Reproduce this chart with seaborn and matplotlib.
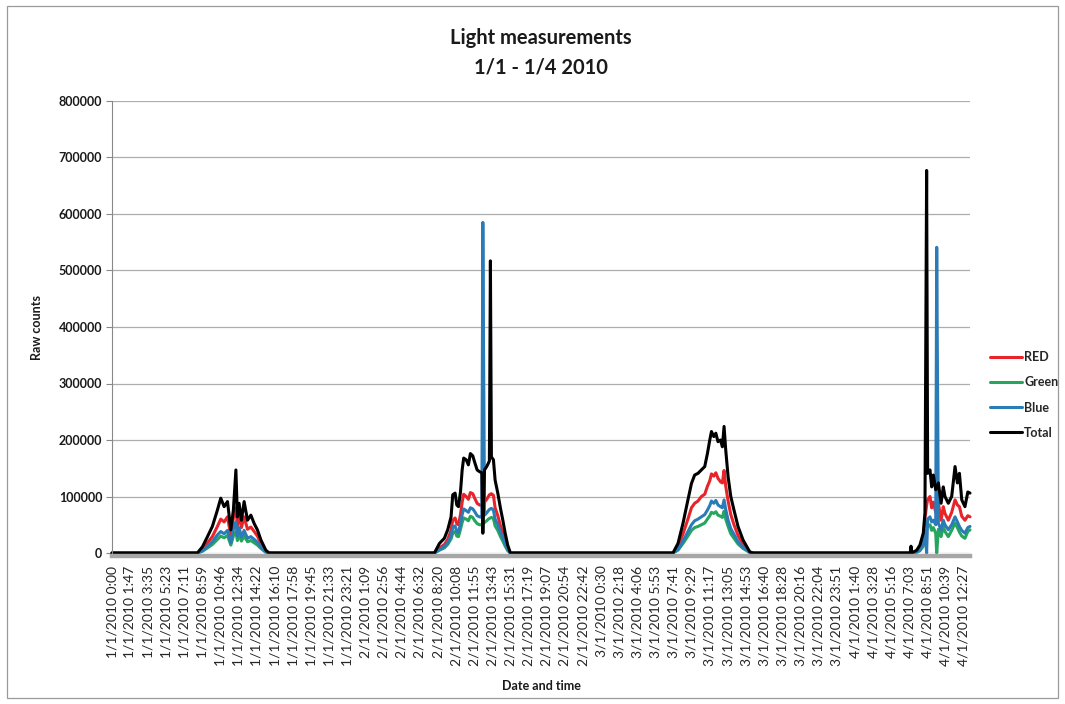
import matplotlib
matplotlib.use("Agg")
import matplotlib.pyplot as plt
import matplotlib.ticker as mticker
from matplotlib.patches import Rectangle
import seaborn as sns
import pandas as pd

# ---- data: light sensor readings (raw counts), one block per day ----
day1_date = "1/1/2010"
day1_time = ["0:00", "8:28", "8:58", "9:28", "9:57", "10:27", "10:47", "11:07", "11:27",
             "11:47", "12:02", "12:17", "12:26", "12:36", "12:50", "13:06", "13:26",
             "13:46", "14:06", "14:25", "14:46", "15:15", "15:35"]
day1_total = [0, 0, 11000, 29000, 47000, 76000, 97000, 82000, 91000, 41000, 76000, 147000,
              64000, 88000, 58000, 91000, 58000, 67000, 52000, 41000, 23000, 5000, 0]
day1_red = [0, 0, 6000, 18000, 29000, 47000, 60000, 55000, 64000, 30000, 62000, 80000,
            48000, 70000, 45000, 64000, 42000, 46000, 38000, 30000, 16000, 3000, 0]
day1_green = [0, 0, 3000, 9000, 15000, 24000, 30000, 27000, 31000, 14000, 30000, 38000,
              22000, 33000, 21000, 30000, 20000, 22000, 18000, 14000, 8000, 1000, 0]
day1_blue = [0, 0, 4000, 12000, 20000, 32000, 38000, 34000, 40000, 18000, 42000, 55000,
             30000, 45000, 28000, 40000, 26000, 29000, 24000, 19000, 10000, 2000, 0]

day2_date = "2/1/2010"
day2_time = ["7:58", "8:28", "8:57", "9:17", "9:37", "9:47", "10:01", "10:11", "10:21",
             "10:33", "10:43", "10:52", "11:07", "11:20", "11:32", "11:46", "11:56",
             "12:12", "12:26", "12:40", "12:46", "12:56", "13:09", "13:19", "13:25",
             "13:31", "13:37", "13:49", "13:59", "14:15", "14:31", "14:45", "14:59",
             "15:14", "15:30"]
day2_total = [0, 17000, 26000, 41000, 64000, 103000, 106000, 85000, 82000, 108000, 147000,
              168000, 165000, 156000, 176000, 172000, 162000, 147000, 144000, 142000,
              35000, 147000, 153000, 159000, 163000, 517000, 170000, 165000, 129000,
              106000, 79000, 58000, 35000, 14000, 0]
day2_red = [0, 9000, 15000, 24000, 40000, 58000, 62000, 52000, 50000, 68000, 90000, 104000,
            100000, 95000, 107000, 105000, 98000, 88000, 85000, 84000, 86000, 90000,
            95000, 100000, 103000, 104000, 105000, 102000, 80000, 66000, 48000, 35000,
            21000, 8000, 0]
day2_green = [0, 5000, 9000, 15000, 25000, 35000, 38000, 30000, 29000, 42000, 54000, 62000,
              60000, 57000, 65000, 63000, 58000, 52000, 50000, 50000, 51000, 54000, 57000,
              60000, 61000, 62000, 63000, 61000, 48000, 40000, 29000, 21000, 12000, 4000, 0]
day2_blue = [0, 6000, 11000, 18000, 30000, 45000, 48000, 38000, 36000, 52000, 68000, 78000,
             75000, 72000, 80000, 78000, 74000, 66000, 64000, 63000, 585000, 67000, 71000,
             75000, 77000, 78000, 79000, 76000, 60000, 50000, 37000, 27000, 16000, 6000, 0]

day3_date = "3/1/2010"
day3_time = ["7:37", "8:07", "8:37", "9:06", "9:27", "9:46", "10:06", "10:26", "10:46",
             "11:02", "11:16", "11:26", "11:40", "11:52", "12:05", "12:20", "12:31",
             "12:41", "12:51", "13:05", "13:21", "13:40", "14:04", "14:34", "15:14", "15:34"]
day3_total = [0, 17000, 53000, 94000, 123000, 138000, 141000, 147000, 153000, 176000,
              200000, 215000, 206000, 212000, 197000, 200000, 188000, 224000, 182000,
              135000, 100000, 76000, 47000, 23000, 2000, 0]
day3_red = [0, 10000, 34000, 60000, 80000, 88000, 92000, 100000, 104000, 118000, 128000,
            140000, 136000, 142000, 132000, 126000, 124000, 146000, 118000, 92000, 68000,
            50000, 31000, 15000, 1000, 0]
day3_green = [0, 5000, 17000, 30000, 40000, 45000, 47000, 50000, 53000, 60000, 66000,
              72000, 70000, 73000, 67000, 65000, 63000, 74000, 60000, 47000, 34000, 26000,
              16000, 8000, 1000, 0]
day3_blue = [0, 6000, 21000, 38000, 50000, 57000, 60000, 64000, 68000, 76000, 84000,
             92000, 88000, 93000, 85000, 82000, 80000, 94000, 77000, 58000, 43000, 33000,
             20000, 10000, 1000, 0]

day4_date = "4/1/2010"
day4_time = ["6:55", "7:08", "7:13", "7:18", "7:47", "8:06", "8:26", "8:36", "8:46",
             "8:52", "9:06", "9:16", "9:26", "9:40", "9:46", "9:56", "10:12", "10:25",
             "10:35", "10:55", "11:15", "11:35", "11:49", "12:01", "12:15", "12:34",
             "12:51", "13:04"]
day4_total = [0, 0, 12000, 0, 5000, 14000, 35000, 71000, 677000, 141000, 147000, 117000,
              138000, 112000, 115000, 124000, 88000, 117000, 100000, 88000, 100000,
              153000, 124000, 141000, 94000, 82000, 108000, 106000]
day4_red = [0, 0, 0, 0, 3000, 8000, 22000, 60000, 85000, 94000, 100000, 80000, 90000,
            72000, 74000, 88000, 58000, 82000, 70000, 58000, 72000, 94000, 85000, 82000,
            65000, 58000, 66000, 64000]
day4_green = [0, 0, 0, 0, 1000, 4000, 12000, 32000, 45000, 47000, 50000, 40000, 45000,
              35000, 0, 42000, 29000, 47000, 38000, 29000, 40000, 53000, 45000, 37000,
              30000, 26000, 38000, 41000]
day4_blue = [0, 0, 0, 0, 2000, 5000, 16000, 40000, 0, 60000, 64000, 55000, 58000, 50000,
             541000, 52000, 41000, 58000, 50000, 41000, 50000, 64000, 55000, 47000, 40000,
             35000, 45000, 47000]

x_tick_labels = [
    "1/1/2010 0:00", "1/1/2010 1:47", "1/1/2010 3:35", "1/1/2010 5:23", "1/1/2010 7:11",
    "1/1/2010 8:59", "1/1/2010 10:46", "1/1/2010 12:34", "1/1/2010 14:22", "1/1/2010 16:10",
    "1/1/2010 17:58", "1/1/2010 19:45", "1/1/2010 21:33", "1/1/2010 23:21", "2/1/2010 1:09",
    "2/1/2010 2:56", "2/1/2010 4:44", "2/1/2010 6:32", "2/1/2010 8:20", "2/1/2010 10:08",
    "2/1/2010 11:55", "2/1/2010 13:43", "2/1/2010 15:31", "2/1/2010 17:19", "2/1/2010 19:07",
    "2/1/2010 20:54", "2/1/2010 22:42", "3/1/2010 0:30", "3/1/2010 2:18", "3/1/2010 4:06",
    "3/1/2010 5:53", "3/1/2010 7:41", "3/1/2010 9:29", "3/1/2010 11:17", "3/1/2010 13:05",
    "3/1/2010 14:53", "3/1/2010 16:40", "3/1/2010 18:28", "3/1/2010 20:16", "3/1/2010 22:04",
    "3/1/2010 23:51", "4/1/2010 1:40", "4/1/2010 3:28", "4/1/2010 5:16", "4/1/2010 7:03",
    "4/1/2010 8:51", "4/1/2010 10:39", "4/1/2010 12:27",
]
y_ticks = [0, 100000, 200000, 300000, 400000, 500000, 600000, 700000, 800000]

series_names = ["RED", "Green", "Blue", "Total"]
series_colors = {"RED": "#E8242B", "Green": "#25A55E", "Blue": "#2B7BB7", "Total": "#000000"}

# ---- long-form table ----
days = [
    (day1_date, day1_time, day1_red, day1_green, day1_blue, day1_total),
    (day2_date, day2_time, day2_red, day2_green, day2_blue, day2_total),
    (day3_date, day3_time, day3_red, day3_green, day3_blue, day3_total),
    (day4_date, day4_time, day4_red, day4_green, day4_blue, day4_total),
]
rows = []
for date, times, red, green, blue, total in days:
    for i, t in enumerate(times):
        stamp = pd.to_datetime(f"{date} {t}", format="%d/%m/%Y %H:%M")
        for name, vals in zip(series_names, (red, green, blue, total)):
            rows.append({"time": stamp, "series": name, "counts": vals[i]})
df = pd.DataFrame(rows)

tick_pos = pd.to_datetime(x_tick_labels, format="%d/%m/%Y %H:%M")

# ---- figure ----
sns.set_theme(style="white")
plt.rcParams["font.family"] = ["Lato", "DejaVu Sans"]

fig = plt.figure(figsize=(10.65, 7.04), dpi=100)
ax = fig.add_axes([112 / 1065, 1 - 553 / 704, 858 / 1065, 452 / 704])

fig.patches.append(Rectangle((7 / 1065, 6 / 704), 1051 / 1065, 692 / 704,
                             transform=fig.transFigure, fill=False,
                             edgecolor="#9A9A9A", linewidth=0.9))

sns.lineplot(data=df, x="time", y="counts", hue="series", hue_order=series_names,
             palette=series_colors, estimator=None, linewidth=2.2, ax=ax, legend=True)
for ln in ax.lines:
    ln.set_clip_on(False)

ax.set_ylim(0, 800000)
ax.set_xlim(pd.Timestamp("2010-01-01 00:00"), pd.Timestamp("2010-01-04 13:04"))
ax.set_yticks(y_ticks)
ax.yaxis.set_major_formatter(mticker.FuncFormatter(lambda v, p: f"{int(v)}"))
ax.grid(axis="y", color="#ADADAD", linewidth=0.9)
ax.set_axisbelow(True)

ax.xaxis.set_major_locator(mticker.FixedLocator(matplotlib.dates.date2num(tick_pos)))
ax.xaxis.set_major_formatter(mticker.FixedFormatter(x_tick_labels))
ax.tick_params(axis="x", length=0, pad=7, labelrotation=90, labelsize=10)
for lab in ax.get_xticklabels():
    lab.set_fontfamily("DejaVu Serif")
    lab.set_color("#1a1a1a")
ax.tick_params(axis="y", length=4, width=0.8, color="#888888", direction="out",
               labelsize=9, pad=3, left=True)
for lab in ax.get_yticklabels():
    lab.set_fontweight("bold")
    lab.set_color("#1a1a1a")

for side in ("top", "right"):
    ax.spines[side].set_visible(False)
ax.spines["left"].set_color("#888888")
ax.spines["left"].set_linewidth(0.8)
ax.spines["bottom"].set_color("#A6A6A6")
ax.spines["bottom"].set_linewidth(3.2)
ax.spines["bottom"].set_position(("outward", 2))

ax.set_ylabel("Raw counts", fontsize=9, fontweight="bold", color="#1a1a1a")
ax.yaxis.set_label_coords(-0.08, 0.5)
ax.set_xlabel("Date and time", fontsize=9, fontweight="bold", color="#1a1a1a")
ax.xaxis.set_label_coords(0.5, -0.281)

fig.text(541 / 1065, 1 - 38 / 704, "Light measurements", ha="center", va="center",
         fontsize=14.5, fontweight="bold", color="#1a1a1a")
fig.text(541 / 1065, 1 - 67 / 704, "1/1 - 1/4 2010", ha="center", va="center",
         fontsize=14.5, fontweight="bold", color="#1a1a1a")

handles, labels = ax.get_legend_handles_labels()
ax.legend_.remove()
leg = fig.legend(handles, labels, loc="center left", bbox_to_anchor=(0.919, 1 - 395 / 704),
                 frameon=False, handlelength=2.6, handletextpad=0.15, labelspacing=1.05,
                 prop={"weight": "bold", "size": 9})
for h in leg.legend_handles:
    h.set_linewidth(2.2)

fig.savefig("out.png", dpi=100, facecolor="white")
